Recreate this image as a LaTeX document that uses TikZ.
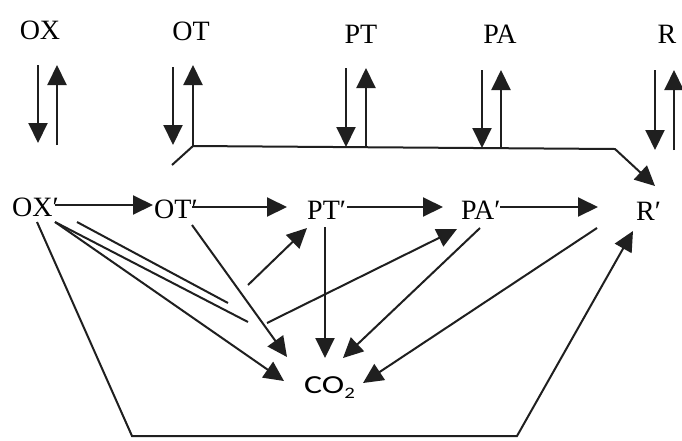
\documentclass[tikz,border=0pt]{standalone}
\usepackage{fontspec}
\setmainfont{Liberation Serif}
\newfontfamily\cofont{Carlito}
\usetikzlibrary{arrows.meta}
\begin{document}
\begin{tikzpicture}[x=1pt,y=-1pt,
  lbl/.style={inner sep=0pt, font=\fontsize{28}{28}\selectfont, anchor=base},
  lblp/.style={inner sep=0pt, font=\fontsize{28}{28}\selectfont, anchor=base west},
  conn/.style={line width=2pt, draw=black!88, line join=miter},
  arr/.style={conn, -{Triangle[length=20pt,width=19pt]}},
]
\path[use as bounding box, fill=white] (0,0) rectangle (682,440);

% top labels
\node[lbl] (ox) at (40,39) {OX};
\node[lbl] (ot) at (191,40) {OT};
\node[lbl] (pt) at (361,43) {PT};
\node[lbl] (pa) at (500,43) {PA};
\node[lbl] (r)  at (667,43) {R};

% middle labels
\node[lblp] (oxp) at (12,216) {OX′};
\node[lblp] (otp) at (154,218) {OT′};
\node[lblp] (ptp) at (307,219) {PT′};
\node[lblp] (pap) at (461,219) {PA′};
\node[lblp] (rp)  at (636,220) {R′};

% CO2
\node[anchor=base west, inner sep=0pt] (co2) at (304,393) {\cofont\fontsize{26}{26}\selectfont\scalebox{1.3}[1]{CO\raisebox{-5pt}{\fontsize{16}{16}\selectfont 2}}};

% vertical exchange arrows
\coordinate (oxa) at (38,65);  \coordinate (oxb) at (38,143);
\coordinate (oxc) at (57,145); \coordinate (oxd) at (57,65);
\coordinate (ota) at (173,67); \coordinate (otb) at (173,145);
\coordinate (otc) at (193,146);\coordinate (otd) at (193,65);
\coordinate (pta) at (346,68); \coordinate (ptb) at (346,147);
\coordinate (ptc) at (366,147);\coordinate (ptd) at (366,68);
\coordinate (paa) at (482,70); \coordinate (pab) at (482,148);
\coordinate (pac) at (501,148);\coordinate (pad) at (501,70);
\coordinate (ra) at (655,70);  \coordinate (rb) at (655,150);
\coordinate (rc) at (674,150); \coordinate (rd) at (674,70);

\draw[arr] (oxa) -- (oxb);  \draw[arr] (oxc) -- (oxd);
\draw[arr] (ota) -- (otb);  \draw[arr] (otc) -- (otd);
\draw[arr] (pta) -- (ptb);  \draw[arr] (ptc) -- (ptd);
\draw[arr] (paa) -- (pab);  \draw[arr] (pac) -- (pad);
\draw[arr] (ra) -- (rb);    \draw[arr] (rc) -- (rd);

% collecting bar to R'
\coordinate (barl) at (172,165);
\coordinate (barr) at (615,149);
\coordinate (barend) at (655,186);
\draw[arr] (barl) -- (otc) -- (barr) -- (barend);

% horizontal chain
\coordinate (h1a) at (55,205);  \coordinate (h1b) at (153,205);
\coordinate (h2a) at (192,207); \coordinate (h2b) at (287,207);
\coordinate (h3a) at (347,207); \coordinate (h3b) at (443,207);
\coordinate (h4a) at (500,207); \coordinate (h4b) at (598,207);
\draw[arr] (h1a) -- (h1b);
\draw[arr] (h2a) -- (h2b);
\draw[arr] (h3a) -- (h3b);
\draw[arr] (h4a) -- (h4b);

% OX' outer loop to R'
\coordinate (l4a) at (37,222);
\coordinate (l4b) at (132,436);
\coordinate (l4c) at (517,436);
\coordinate (l4d) at (633,231);
\draw[arr] (l4a) -- (l4b) -- (l4c) -- (l4d);

% OX' short lines
\coordinate (l1a) at (77,222);  \coordinate (l1b) at (228,303);
\coordinate (l2a) at (55,222);  \coordinate (l2b) at (248,322);
\draw[conn] (l1a) -- (l1b);
\draw[conn] (l2a) -- (l2b);

% continuations
\coordinate (m1a) at (248,285); \coordinate (m1b) at (307,228);
\coordinate (m2a) at (267,323); \coordinate (m2b) at (457,229);
\draw[arr] (m1a) -- (m1b);
\draw[arr] (m2a) -- (m2b);

% to CO2
\coordinate (c1a) at (55,222);  \coordinate (c1b) at (284,381);
\coordinate (c2a) at (192,225); \coordinate (c2b) at (287,357);
\coordinate (c3a) at (325,227); \coordinate (c3b) at (325,358);
\coordinate (c4a) at (480,228); \coordinate (c4b) at (343,358);
\coordinate (c5a) at (597,228); \coordinate (c5b) at (363,383);
\draw[arr] (c1a) -- (c1b);
\draw[arr] (c2a) -- (c2b);
\draw[arr] (c3a) -- (c3b);
\draw[arr] (c4a) -- (c4b);
\draw[arr] (c5a) -- (c5b);
\end{tikzpicture}
\end{document}
